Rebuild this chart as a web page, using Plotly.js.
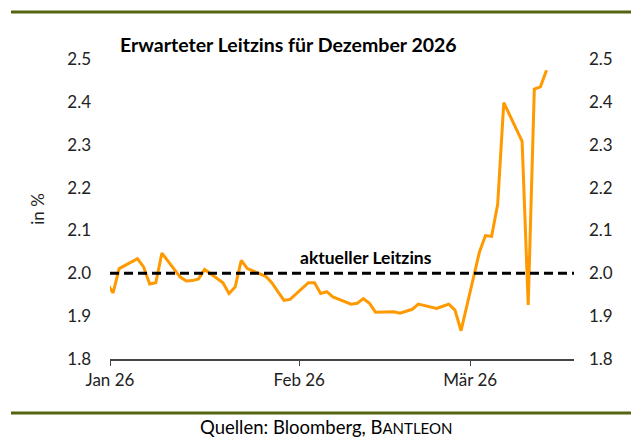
<!DOCTYPE html>
<html>
<head>
<meta charset="utf-8">
<script src="https://cdn.plot.ly/plotly-3.0.1.min.js"></script>
<style>
  body { margin: 0; background: #fff; }
  #chart { width: 631px; height: 437px; }
</style>
</head>
<body>
<div id="chart"></div>
<script>
// Daily market-implied rate for Dec 2026 (business days)
var dates = [
    "2025-12-31", "2026-01-01", "2026-01-02",
    "2026-01-05", "2026-01-06", "2026-01-07", "2026-01-08", "2026-01-09",
    "2026-01-12", "2026-01-13", "2026-01-14", "2026-01-15", "2026-01-16",
    "2026-01-19", "2026-01-20", "2026-01-21", "2026-01-22", "2026-01-23",
    "2026-01-26", "2026-01-27", "2026-01-28", "2026-01-29", "2026-01-30",
    "2026-02-02", "2026-02-03", "2026-02-04", "2026-02-05", "2026-02-06",
    "2026-02-09", "2026-02-10", "2026-02-11", "2026-02-12", "2026-02-13",
    "2026-02-16", "2026-02-17", "2026-02-18", "2026-02-19", "2026-02-20",
    "2026-02-23", "2026-02-24", "2026-02-25", "2026-02-26", "2026-02-27",
    "2026-03-02", "2026-03-03", "2026-03-04", "2026-03-05", "2026-03-06",
    "2026-03-09", "2026-03-10", "2026-03-11", "2026-03-12", "2026-03-13"
];
var expectedRate = [
    1.978, 1.954, 2.011,
    2.034, 2.015, 1.975, 1.978, 2.047,
    1.991, 1.982, 1.983, 1.987, 2.009,
    1.978, 1.953, 1.968, 2.030, 2.011,
    1.993, 1.978, 1.957, 1.937, 1.939,
    1.978, 1.978, 1.953, 1.957, 1.945,
    1.928, 1.930, 1.941, 1.930, 1.909,
    1.910, 1.907, 1.912, 1.916, 1.928,
    1.918, 1.923, 1.928, 1.914, 1.866,
    2.049, 2.088, 2.086, 2.161, 2.398,
    2.308, 1.926, 2.430, 2.435, 2.474
];
var currentRate = 2.0;

var tickDates = ["2026-01-01", "2026-02-01", "2026-03-01"];
var tickLabels = ["Jan 26", "Feb 26", "Mär 26"];
var yTicks = [1.8, 1.9, 2.0, 2.1, 2.2, 2.3, 2.4, 2.5];
var yTickLabels = ["1.8", "1.9", "2.0", "2.1", "2.2", "2.3", "2.4", "2.5"];

var W = 631, H = 437;
var M = { l: 110, r: 57, t: 59, b: 78 };
var FONT = "Lato, 'Open Sans', sans-serif";

// pixel -> paper helpers for the decorations outside the plot
function px(x) { return (x - M.l) / (W - M.l - M.r); }
function py(y) { return (H - M.b - y) / (H - M.t - M.b); }

var data = [{
    x: dates.map(function (d) { return d + " 12:00"; }),
    y: expectedRate,
    type: "scatter",
    mode: "lines",
    line: { color: "#FF9900", width: 3 },
    hoverinfo: "x+y",
    showlegend: false
}, {
    // invisible trace to carry the right axis
    x: [dates[0]],
    y: [currentRate],
    yaxis: "y2",
    mode: "markers",
    marker: { opacity: 0 },
    hoverinfo: "skip",
    showlegend: false
}];

var yAxisBase = {
    range: [1.8, 2.5],
    tickvals: yTicks,
    ticktext: yTickLabels,
    showgrid: false,
    zeroline: false,
    showline: false,
    ticks: "",
    ticklen: 0,
    tickfont: { family: FONT, size: 17, color: "#222" }
};

var layout = {
    width: W,
    height: H,
    margin: M,
    paper_bgcolor: "#fff",
    plot_bgcolor: "#fff",
    title: {
        text: "<b>Erwarteter Leitzins für Dezember 2026</b>",
        x: 120 / W, xanchor: "left",
        y: 1 - 45 / H, yanchor: "middle",
        font: { family: FONT, size: 19.5, color: "#000" }
    },
    xaxis: {
        type: "date",
        range: ["2026-01-01", "2026-03-18"],
        tickvals: tickDates,
        ticktext: tickLabels,
        showgrid: false,
        zeroline: false,
        showline: true,
        linecolor: "#444",
        linewidth: 1.5,
        ticks: "outside",
        ticklen: 5,
        tickcolor: "#444",
        tickfont: { family: FONT, size: 17, color: "#222" }
    },
    yaxis: Object.assign({}, yAxisBase, {
        ticklabelstandoff: 18,
        title: { text: "in %", standoff: 18, font: { family: FONT, size: 17, color: "#222" } }
    }),
    yaxis2: Object.assign({}, yAxisBase, {
        overlaying: "y",
        side: "right",
        ticklabelstandoff: 14
    }),
    shapes: [
        // current policy rate
        { type: "line", xref: "paper", x0: 0, x1: 1, yref: "y", y0: currentRate, y1: currentRate,
          line: { color: "#000", width: 3, dash: "9px,5px" } },
        // frame rules
        { type: "line", xref: "paper", yref: "paper", x0: px(11), x1: px(631), y0: py(12), y1: py(12),
          line: { color: "#556410", width: 3 } },
        { type: "line", xref: "paper", yref: "paper", x0: px(11), x1: px(631), y0: py(413), y1: py(413),
          line: { color: "#556410", width: 3 } }
    ],
    annotations: [{
        text: "<b>aktueller Leitzins</b>",
        xref: "paper", x: px(366), xanchor: "center",
        yref: "y", y: currentRate, yanchor: "bottom", yshift: 3,
        showarrow: false,
        font: { family: FONT, size: 17.5, color: "#000" }
    }, {
        text: "Quellen: Bloomberg, B<span style='font-size:15px'>ANTLEON</span>",
        xref: "paper", x: px(326), xanchor: "center",
        yref: "paper", y: py(427), yanchor: "middle",
        showarrow: false,
        font: { family: FONT, size: 18.5, color: "#000" }
    }]
};

Plotly.newPlot("chart", data, layout, { displayModeBar: false, staticPlot: true });
</script>
</body>
</html>
